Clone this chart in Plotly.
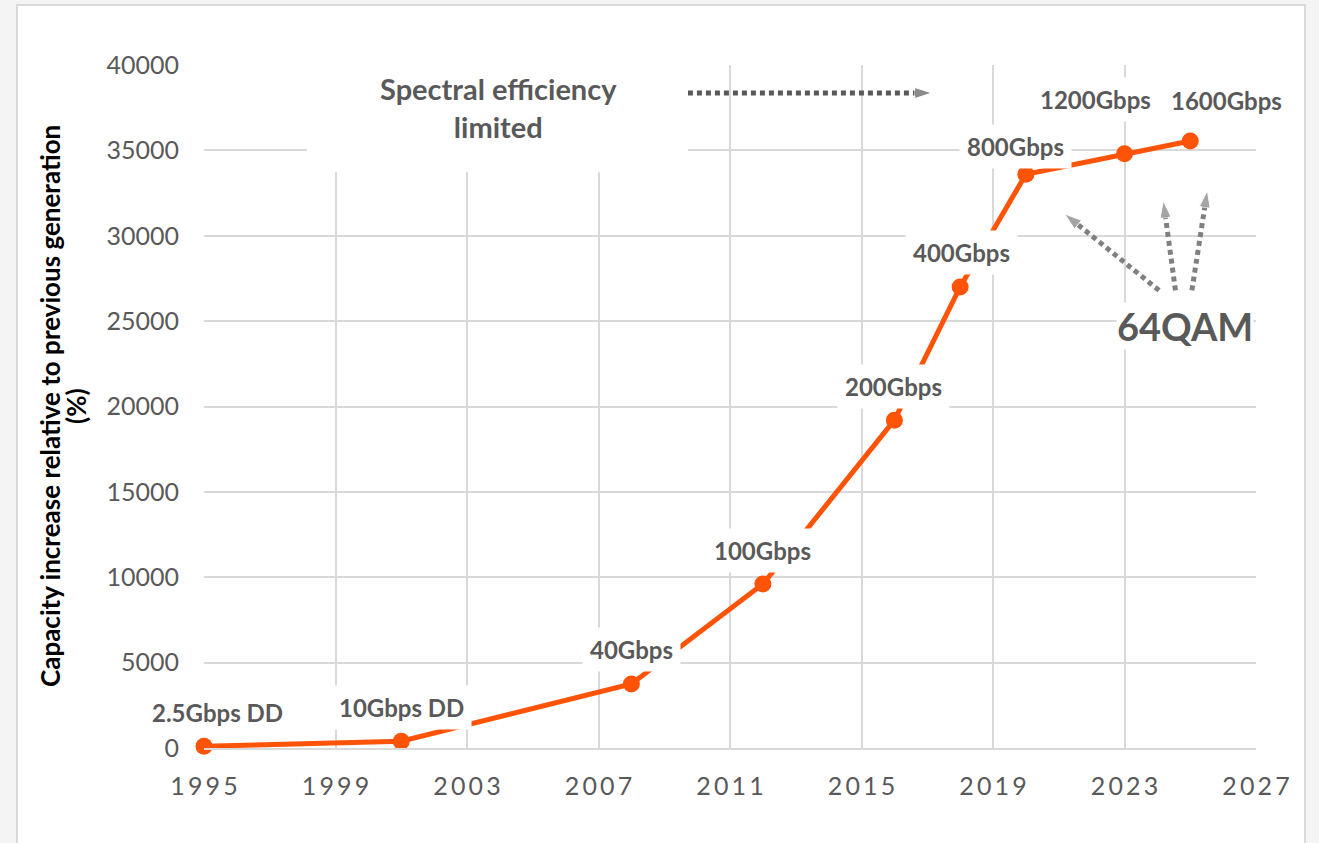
import plotly.graph_objects as go

# ---- data ----
years = [1995, 2001, 2008, 2012, 2016, 2018, 2020, 2023, 2025]
capacity = [100, 400, 3750, 9600, 19200, 27000, 33600, 34800, 35550]
labels = ["2.5Gbps DD", "10Gbps DD", "40Gbps", "100Gbps", "200Gbps",
          "400Gbps", "800Gbps", "1200Gbps", "1600Gbps"]
x_ticks = [1995, 1999, 2003, 2007, 2011, 2015, 2019, 2023, 2027]
y_ticks = [0, 5000, 10000, 15000, 20000, 25000, 30000, 35000, 40000]
y_title_lines = ["Capacity increase relative to previous generation", "(%)"]

# annotation arrows (data coords): [x_start, x_end], [y_start, y_end]
spectral_arrow_x = [2009.72, 2017.14]
spectral_arrow_y = [38360, 38360]
qam_arrows = [
    ([2024.05, 2021.18], [26800, 31280]),
    ([2024.55, 2024.18], [26800, 32050]),
    ([2025.05, 2025.52], [26800, 32650]),
]

# ---- styles ----
label_offsets = [(13, 34), (0, 34), (0, 34), (0, 34), (-1, 34), (1, 34),
                 (-10, 28), (-29, 54), (36, 40)]
title_line_px = [50, 76]
FONT = "Lato"
GRAY = "#595959"
GRID = "#d9d9d9"
ORANGE = "#FF5308"

fig = go.Figure()

fig.add_trace(go.Scatter(
    x=years, y=capacity, mode="lines+markers",
    line=dict(color=ORANGE, width=5),
    marker=dict(color=ORANGE, size=17, symbol="circle"),
    cliponaxis=False, showlegend=False, hoverinfo="skip"))

fig.add_trace(go.Scatter(
    x=spectral_arrow_x, y=spectral_arrow_y, mode="lines+markers",
    line=dict(color=GRAY, width=5, dash="5px,4px"),
    marker=dict(symbol="arrow", size=[0, 18], color=GRAY, angleref="previous"),
    cliponaxis=False, showlegend=False, hoverinfo="skip"))

for ax_, ay_ in qam_arrows:
    fig.add_trace(go.Scatter(
        x=ax_, y=ay_, mode="lines+markers",
        line=dict(color="#808080", width=5, dash="5px,4px"),
        marker=dict(symbol="arrow", size=[0, 18], color="#808080", angleref="previous"),
        cliponaxis=False, showlegend=False, hoverinfo="skip"))

for x, y, t, (dx, dy) in zip(years, capacity, labels, label_offsets):
    fig.add_annotation(x=x, y=y, text="<b>%s</b>" % t, showarrow=False,
                       xshift=dx, yshift=dy, bgcolor="white", borderpad=7,
                       xanchor="center", yanchor="middle",
                       font=dict(family=FONT, size=24, color=GRAY))

# white box behind "Spectral efficiency limited"
fig.add_shape(type="rect", xref="paper", yref="paper",
              x0=0.098, x1=0.46, y0=0.843, y1=1.02,
              fillcolor="white", line=dict(width=0), layer="above")
fig.add_annotation(xref="paper", yref="paper", x=(498 - 204) / 1052, y=(748 - 108) / 683,
                   xanchor="center", yanchor="middle",
                   text="<b>Spectral efficiency<br>limited</b>", showarrow=False,
                   font=dict(family=FONT, size=29, color=GRAY), align="center")

fig.add_annotation(x=2024.85, y=24700, text="<b>64QAM</b>", showarrow=False,
                   bgcolor="white", borderpad=0, xanchor="center", yanchor="middle",
                   font=dict(family=FONT, size=38, color=GRAY))

for line_text, px in zip(y_title_lines, title_line_px):
    fig.add_annotation(xref="paper", yref="paper", x=(px - 204) / 1052, y=(748 - 406) / 683,
                       xanchor="center", yanchor="middle",
                       text="<b>%s</b>" % line_text,
                       textangle=-90, showarrow=False, align="center",
                       font=dict(family=FONT, size=26, color="black"))

# outer white card with border
fig.add_shape(type="rect", xref="paper", yref="paper",
              x0=(17 - 204) / 1052, x1=(1305 - 204) / 1052,
              y0=(748 - 850) / 683, y1=(748 - 5) / 683,
              fillcolor="white", line=dict(color=GRID, width=2), layer="below")

spaced = ["\u2009".join(str(v)) for v in x_ticks]
fig.update_xaxes(range=[1995, 2027], tickvals=x_ticks, ticktext=spaced,
                 showgrid=True, gridcolor=GRID, gridwidth=2, zeroline=False,
                 showline=True, linecolor=GRID, linewidth=2,
                 ticks="", ticklabelstandoff=15,
                 tickfont=dict(family=FONT, size=25, color=GRAY))
fig.update_yaxes(range=[0, 40000], tickvals=y_ticks, tickformat="d",
                 showgrid=True, gridcolor=GRID, gridwidth=2, zeroline=False,
                 ticks="", ticklabelstandoff=24,
                 tickfont=dict(family=FONT, size=25, color=GRAY))

fig.update_layout(width=1319, height=843,
                  margin=dict(l=204, r=63, t=65, b=95),
                  paper_bgcolor="#f4f4f4", plot_bgcolor="white",
                  font=dict(family=FONT))

fig.write_html("out.html")
